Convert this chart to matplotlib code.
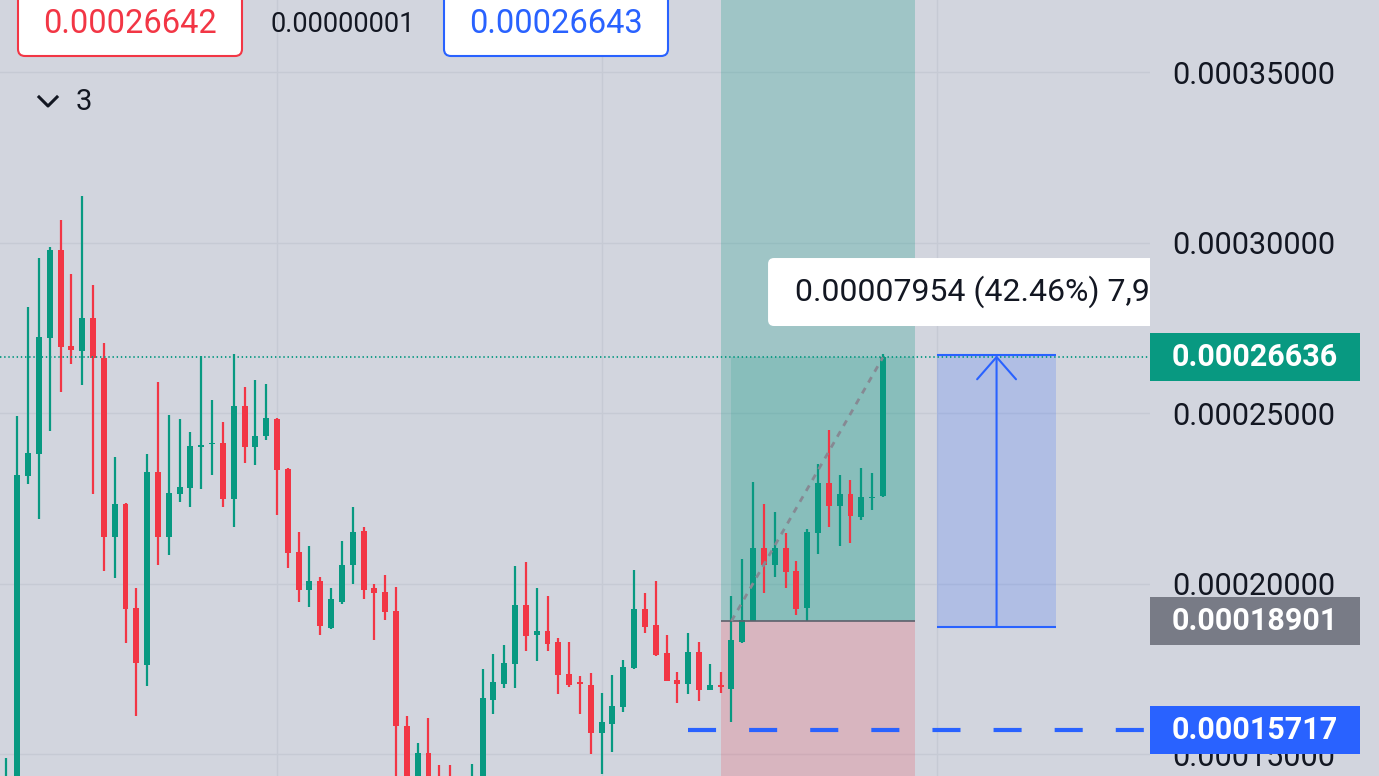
import numpy as np
import matplotlib
matplotlib.use('Agg')
import matplotlib.pyplot as plt
from matplotlib.patches import Rectangle, FancyBboxPatch
from matplotlib.lines import Line2D
from matplotlib import transforms as mtrans

plt.rcParams['font.family'] = ['Roboto', 'DejaVu Sans']
plt.rcParams['lines.scale_dashes'] = False

# prices in units of 1e-8 (0.00000001)
opens = [13600, 14000, 23150, 23801, 27210, 29779, 26967, 26812, 27786, 26624,
         21365, 22329, 19284, 17624, 23265, 21364, 22631, 22797, 24006, 24084,
         24123, 22466, 25214, 23996, 24318, 24825, 23362, 20922, 19805, 20067,
         18708, 19465, 20533, 21534, 19854, 19737, 19193, 15824, 14200, 15018,
         14250, 14000, 13700, 14000, 14300, 16587, 17067, 17625, 19375, 18481,
         18606, 18298, 17337, 17096, 17019, 15625, 15894, 16375, 17519, 19260,
         18779, 17962, 17183, 17039, 17981, 16875, 17019, 16899, 18282, 18901,
         21038, 20545, 21038, 20380, 19288, 21492, 22962, 22285, 22633, 21956,
         22498, 22575]
highs = [14889, 24908, 28118, 29557, 29867, 30664, 29081, 31350, 28760, 27067,
         23723, 22362, 19871, 23790, 25897, 24942, 24825, 24454, 26676, 25380,
         24727, 26725, 25750, 25975, 25848, 24844, 23400, 21524, 21097, 20194,
         19854, 21242, 22233, 21650, 19980, 20242, 19902, 16115, 15310, 16047,
         14664, 14683, 14200, 14712, 17500, 17933, 18192, 20500, 20625, 19856,
         19635, 18413, 18298, 17279, 17375, 16798, 17327, 17760, 20385, 19712,
         20067, 18481, 17404, 18558, 18298, 17625, 17404, 19636, 20719, 22991,
         22343, 22101, 21473, 20670, 21589, 23494, 24509, 23184, 23039, 23378,
         23233, 26733]
lows = [13400, 13900, 22915, 21886, 24465, 25627, 26424, 25827, 22638, 20369,
        20170, 18266, 16107, 16993, 20555, 20828, 22388, 22242, 22778, 23168,
        22242, 21657, 23538, 23489, 24220, 22017, 20458, 19446, 19320, 18494,
        18669, 19388, 20000, 19533, 18349, 18931, 14000, 13700, 13900, 13800,
        13500, 13400, 13300, 13600, 14100, 16173, 16923, 16923, 18029, 17721,
        18029, 16760, 16952, 16173, 15000, 14400, 15067, 16221, 17500, 18558,
        17885, 17135, 16490, 16760, 16558, 16875, 16798, 15933, 18253, 18901,
        19732, 20187, 19868, 19075, 18901, 20864, 21666, 21086, 21183, 21860,
        22169, 22540]
closes = [14000, 23192, 23823, 27232, 29779, 26923, 26834, 27786, 26624, 21365,
          22329, 19240, 17657, 23256, 21364, 22661, 22826, 24025, 24064, 24123,
          22466, 25214, 23996, 24337, 24844, 23343, 20900, 19805, 20067, 18766,
          19533, 20553, 21524, 19805, 19708, 19174, 15824, 14200, 15018, 14150,
          13900, 13700, 14000, 14300, 16635, 17115, 17664, 19375, 18462, 18606,
          18240, 17308, 17019, 17067, 15625, 15933, 16414, 17548, 19260, 18721,
          17904, 17135, 17039, 17981, 16875, 17019, 16971, 18350, 18930, 21038,
          20545, 21038, 20351, 19249, 21512, 22962, 22285, 22633, 21976, 22527,
          22536, 26636]

price_ticks = [15000, 20000, 25000, 30000, 35000]
last_price = 26636
entry_price = 18901
hline_price = 15717
measure_from = 18733
measure_to = 26687
bid_text = '0.00026642'
spread_text = '0.00000001'
ask_text = '0.00026643'
indicator_count = '3'

S = 1e-8
o = np.array(opens) * S
h = np.array(highs) * S
l = np.array(lows) * S
c = np.array(closes) * S

BG = '#d2d5de'
GRID = '#c6cad4'
UP = '#089981'
DOWN = '#f23645'
BLUE = '#2962ff'
TXT = '#131722'

W, H = 1379, 776
fig = plt.figure(figsize=(W / 100, H / 100), dpi=100, facecolor=BG)
ax = fig.add_axes([0, 0, 1150 / W, 1])
ax.set_facecolor(BG)
ax.set_xlim(-0.6, 105.68)
ylo, yhi = 0.000143552, 0.000371114
ax.set_ylim(ylo, yhi)
py = (yhi - ylo) / H          # price per pixel
px = (105.68 + 0.6) / 1150    # bars per pixel

# candles
idx = np.arange(len(o))
cols = np.where(c >= o, UP, DOWN)
ax.vlines(idx, l, h, colors=cols, lw=1.6, zorder=3)
ax.bar(idx, np.maximum(np.abs(c - o), 1.5 * py), bottom=np.minimum(o, c),
       width=0.55, color=cols, linewidth=0, zorder=4)

# long position tool
z0, z1, zin = 66, 84, 67
ax.add_patch(Rectangle((z0, entry_price * S), z1 - z0, yhi, fc=UP, alpha=0.25, lw=0, zorder=1))
ax.add_patch(Rectangle((zin, entry_price * S), z1 - zin, (last_price - entry_price) * S,
                       fc=UP, alpha=0.15, lw=0, zorder=1))
ax.add_patch(Rectangle((z0, 0), z1 - z0, entry_price * S, fc=DOWN, alpha=0.2, lw=0, zorder=1))
ax.hlines(entry_price * S, z0, z1, color='#5d606b', lw=1.2, zorder=5)
ax.plot([zin, len(o) - 1], [entry_price * S, last_price * S], color='#868993',
        ls=(0, (4.5, 4.5)), lw=2, zorder=5)

# last price dotted line and blue horizontal ray
ax.axhline(last_price * S, color=UP, ls=(0, (1, 2)), lw=1.3, zorder=6)
ax.hlines(hline_price * S, 63, 110, color=BLUE, ls=(0, (20.2, 23.8)), lw=3, zorder=6)

# price range measurement
m0, m1 = 86, 97
ax.add_patch(Rectangle((m0, measure_from * S), m1 - m0, (measure_to - measure_from) * S,
                       fc=BLUE, alpha=0.2, lw=0, zorder=2))
ax.hlines([measure_from * S, measure_to * S], m0, m1, color=BLUE, lw=1.5, zorder=6)
ax.annotate('', xy=((m0 + m1) / 2, measure_to * S), xytext=((m0 + m1) / 2, measure_from * S),
            arrowprops=dict(arrowstyle='->,head_length=0.4,head_width=0.35', color=BLUE,
                            lw=1.5, mutation_scale=40, shrinkA=0, shrinkB=0), zorder=6)
diff = measure_to - measure_from
label = f'{diff * S:.8f} ({diff / measure_from * 100:.2f}%) {diff:,}'
ax.add_patch(FancyBboxPatch((70.38, 27551 * S), 40, 1994 * S,
                            boxstyle=f'round,pad=0,rounding_size={6 * px}',
                            mutation_aspect=py / px, fc='white', ec='none', zorder=8))
ax.text(72.87, 28548 * S, label, fontsize=23, color=TXT, va='center', ha='left',
        zorder=9, clip_on=True)

# axes styling
ax.yaxis.tick_right()
ax.set_yticks(np.array(price_ticks) * S)
ax.set_yticklabels([f'{v * S:.8f}' for v in price_ticks])
ax.tick_params(axis='y', length=0, pad=15.8, labelsize=22, labelcolor=TXT)
ax.set_xticks([25, 55, 86])
ax.set_xticklabels([])
ax.tick_params(axis='x', length=0)
ax.grid(True, color=GRID, lw=1, zorder=0)
ax.set_axisbelow(True)
for s in ax.spines.values():
    s.set_visible(False)

# price scale labels
bt = mtrans.blended_transform_factory(ax.transAxes, ax.transData)
for val, fc in [(last_price, UP), (entry_price, '#787b86'), (hline_price, BLUE)]:
    ax.add_patch(Rectangle((1.0, val * S - 24 * py), 210 / 1150, 48 * py, transform=bt,
                           fc=fc, lw=0, clip_on=False, zorder=10))
    ax.text(1172 / 1150, val * S, f'{val * S:.8f}', transform=bt, color='white',
            fontsize=22, fontweight='bold', va='center', ha='left', clip_on=False, zorder=11)

# header (bid / spread / ask)
ident = mtrans.IdentityTransform()


def px_box(x0, y0, x1, y1, ec):
    fig.add_artist(FancyBboxPatch((x0, H - y1), x1 - x0, y1 - y0,
                                  boxstyle='round,pad=0,rounding_size=7',
                                  transform=ident, fc='white', ec=ec, lw=1.5))


px_box(18, -10, 242, 56, DOWN)
px_box(444, -10, 668, 56, BLUE)
fig.text(130 / W, 1 - 24 / H, bid_text, color=DOWN, fontsize=23.5, ha='center', va='center')
fig.text(343 / W, 1 - 24 / H, spread_text, color=TXT, fontsize=19.5, ha='center', va='center')
fig.text(556 / W, 1 - 24 / H, ask_text, color=BLUE, fontsize=23.5, ha='center', va='center')
fig.add_artist(Line2D([39, 48, 57], [H - 97, H - 106, H - 97], transform=ident,
                      color=TXT, lw=2.2))
fig.text(84 / W, 1 - 102 / H, indicator_count, color=TXT, fontsize=21, ha='center', va='center')

fig.savefig('out.png', dpi=100, facecolor=BG)
